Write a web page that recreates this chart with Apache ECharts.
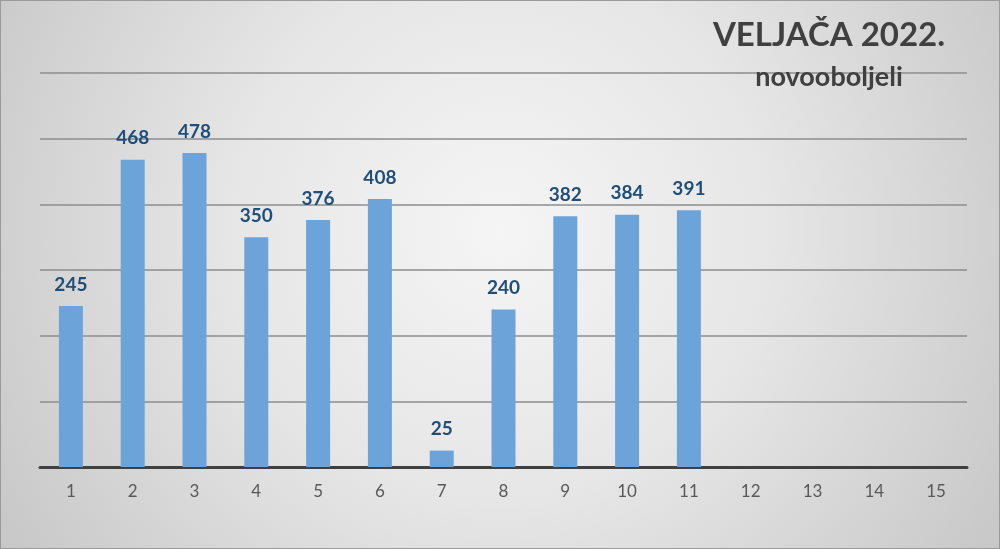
<!DOCTYPE html>
<html>
<head>
<meta charset="utf-8">
<script src="https://cdn.jsdelivr.net/npm/echarts@6/dist/echarts.min.js"></script>
<style>
  html, body { margin: 0; padding: 0; }
  #main { width: 1000px; height: 549px; box-sizing: border-box; border: 1px solid #9a9a9a; }
</style>
</head>
<body>
<div id="main"></div>
<script>
var days = ['1', '2', '3', '4', '5', '6', '7', '8', '9', '10', '11', '12', '13', '14', '15'];
var cases = [245, 468, 478, 350, 376, 408, 25, 240, 382, 384, 391, null, null, null, null];

var myChart = echarts.init(document.getElementById('main'));

var option = {
    // light centre, darker grey toward the edges
    backgroundColor: {
        type: 'radial',
        x: 0.5, y: 0.42, r: 1.1,
        colorStops: [
            { offset: 0, color: '#f5f5f5' },
            { offset: 0.45, color: '#e6e6e6' },
            { offset: 1, color: '#c6c6c6' }
        ]
    },
    title: {
        text: 'VELJAČA 2022.',
        subtext: 'novooboljeli',
        left: 823,
        top: 13,
        textAlign: 'center',
        itemGap: 12,
        textStyle: { fontFamily: 'Lato', fontWeight: 'bold', fontSize: 33, color: '#404040' },
        subtextStyle: { fontFamily: 'Lato', fontWeight: 'bold', fontSize: 27, color: '#404040' }
    },
    grid: {
        left: 39,
        right: 32,
        top: 72,
        bottom: 81
    },
    xAxis: {
        type: 'category',
        data: days,
        axisTick: { show: false },
        axisLine: { lineStyle: { color: '#404040', width: 3 } },
        axisLabel: { color: '#595959', fontSize: 17, fontFamily: 'Lato', margin: 16 }
    },
    yAxis: {
        type: 'value',
        min: 0,
        max: 600,
        interval: 100,
        axisLabel: { show: false },
        axisLine: { show: false },
        axisTick: { show: false },
        splitLine: { lineStyle: { color: '#8c8c8c', width: 1.5 } }
    },
    series: [
        {
            type: 'bar',
            data: cases,
            barWidth: 24,
            itemStyle: { color: '#6ca4da' },
            label: {
                show: true,
                position: 'top',
                distance: 12,
                fontFamily: 'Lato',
                fontWeight: 'bold',
                fontSize: 19,
                color: '#1f4e79'
            }
        }
    ]
};

myChart.setOption(option);
</script>
</body>
</html>
